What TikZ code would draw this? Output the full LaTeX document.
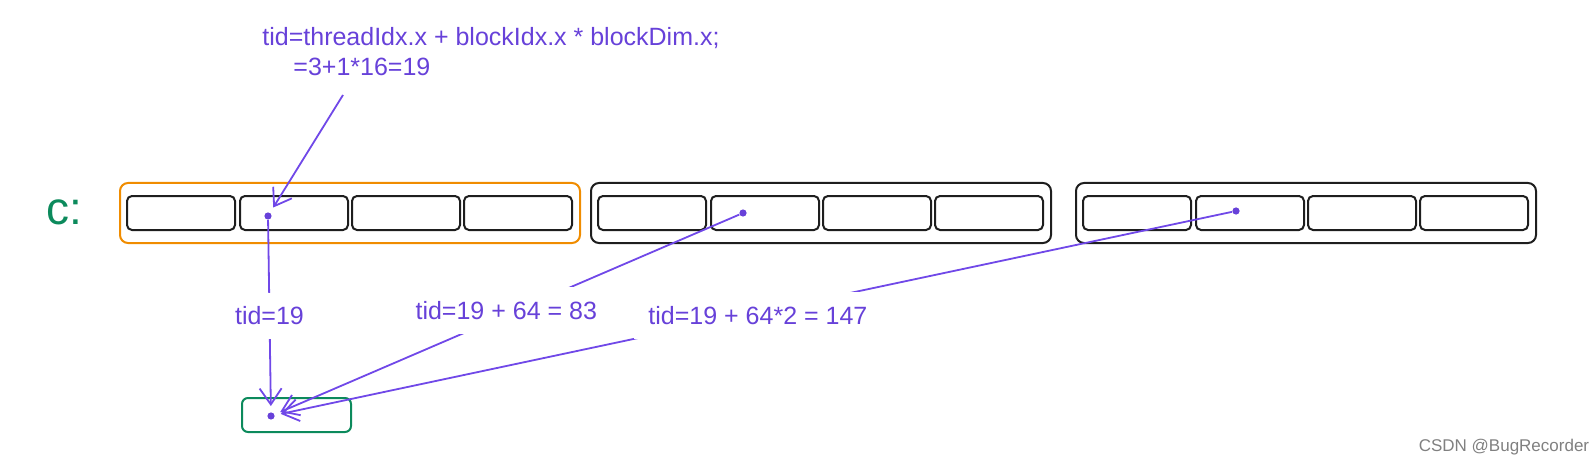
\documentclass[tikz,border=0pt]{standalone}
\usepackage{fontspec}
\setmainfont{Liberation Sans}
\usetikzlibrary{arrows.meta}
\definecolor{ink}{HTML}{1E1E1E}
\definecolor{violet}{HTML}{6741D9}
\definecolor{lineviolet}{HTML}{7048E8}
\definecolor{sketchorange}{HTML}{F08C00}
\definecolor{sketchgreen}{HTML}{0C8A5C}
\tikzset{
  blockbox/.style={line width=1pt, rounded corners=4pt},
  cellbox/.style={draw=ink, line width=1pt, rounded corners=2.5pt},
  dot/.style={circle, fill=violet, inner sep=0pt, minimum size=3.6pt},
  conn/.style={draw=lineviolet, line width=0.9pt, -{Straight Barb[length=8pt,width=11pt]}, shorten >=3pt},
  lbl/.style={text=violet, font=\fontsize{12.5pt}{15pt}\selectfont, fill=white, inner sep=7pt}
}
\begin{document}
\begin{tikzpicture}[x=0.5pt,y=-0.5pt]
	\useasboundingbox (0,0) rectangle (1591,465);
	
	\node[text=sketchgreen, font=\fontsize{23pt}{26pt}\selectfont, inner sep=0pt] (c) at (64,212) {c:};
	
	% three blocks, four threads each
	\foreach \bx/\col in {120/sketchorange,591/ink,1076/ink} {
		\draw[blockbox, draw=\col] (\bx,183) rectangle ++(460,60);
		\foreach \cx in {7,120,232,344}
			\draw[cellbox] (\bx+\cx,196) rectangle ++(108,34);
	}
	
	% output element
	\draw[draw=sketchgreen, line width=1pt, rounded corners=3pt] (242,398) rectangle (351,432);
	
	\node[dot] (t1) at (268,216) {};
	\node[dot] (t2) at (743,213) {};
	\node[dot] (t3) at (1236,211) {};
	\node[dot] (g) at (271,416) {};
	
	\node[lbl, fill=none, inner sep=0pt, anchor=north west, align=left] (formula) at (262,27)
		{tid=threadIdx.x + blockIdx.x * blockDim.x;\\\hspace*{15.5pt}=3+1*16=19};
	\coordinate (tail) at (343,95);
	\draw[conn] (tail) -- (t1);
	
	\draw[conn] (t1) -- node[lbl, pos=0.5] (l1) {tid=19} (g);
	\draw[conn] (t2) -- node[lbl, pos=0.48, xshift=-5pt] (l2) {tid=19 + 64 = 83} (g);
	\draw[conn] (t3) -- node[lbl, pos=0.51, xshift=7pt] (l3) {tid=19 + 64*2 = 147} (g);
	
	\node[text=gray, font=\fontsize{8.5pt}{10pt}\selectfont, inner sep=0pt] (mark) at (1504,447) {CSDN @BugRecorder};
\end{tikzpicture}
\end{document}
